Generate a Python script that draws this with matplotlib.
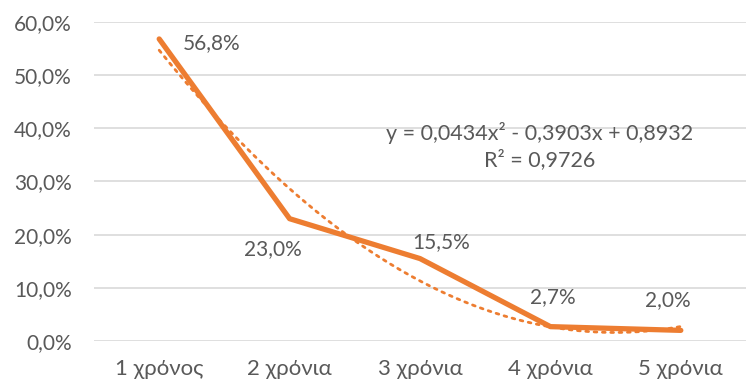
import numpy as np
import matplotlib.pyplot as plt
from matplotlib.ticker import FuncFormatter

categories = ['1 χρόνος', '2 χρόνια', '3 χρόνια', '4 χρόνια', '5 χρόνια']
values = [0.568, 0.230, 0.155, 0.027, 0.020]
labels = ['56,8%', '23,0%', '15,5%', '2,7%', '2,0%']
# label offsets in points from each point
offsets = [(17, -3), (-12, -22), (15, 12), (1.5, 21), (-9, 21.5)]
has = ['left', 'center', 'center', 'center', 'center']

plt.rcParams['font.family'] = ['Lato', 'DejaVu Sans']
orange = '#ED7D31'
grey = '#595959'

fig = plt.figure(figsize=(7.46, 3.85), dpi=100)
ax = fig.add_axes([0.126, 0.1143, 0.874, 0.8287])

x = np.arange(1, len(values) + 1)
ax.plot(x, values, color=orange, lw=3.8, solid_capstyle='round', zorder=3)

# polynomial trendline (order 2)
coef = np.polyfit(x, values, 2)
xs = np.linspace(1, 5, 200)
ax.plot(xs, np.polyval(coef, xs), color=orange, lw=2, ls=(0, (1, 2)),
        dash_capstyle='round', zorder=2)

for xi, v, lab, off, ha in zip(x, values, labels, offsets, has):
    ax.annotate(lab, (xi, v), xytext=off, textcoords='offset points',
                ha=ha, va='center', fontsize=15, color=grey)

ax.text(0.684, 0.652, 'y = 0,0434x² - 0,3903x + 0,8932', transform=ax.transAxes,
        ha='center', va='center', fontsize=15.5, color=grey)
ax.text(0.684, 0.567, 'R² = 0,9726', transform=ax.transAxes,
        ha='center', va='center', fontsize=15.5, color=grey)

ax.set_xlim(0.5, 5.5)
ax.set_ylim(0, 0.6)
ax.set_yticks(np.arange(0, 0.61, 0.1))
ax.yaxis.set_major_formatter(FuncFormatter(lambda v, p: f'{v*100:.1f}%'.replace('.', ',')))
ax.set_xticks(x)
ax.set_xticklabels(categories)
ax.tick_params(axis='both', length=0, labelsize=15, labelcolor=grey)
ax.tick_params(axis='x', labelsize=16)
ax.tick_params(axis='y', pad=16)
ax.tick_params(axis='x', pad=13)
ax.grid(axis='y', color='#D9D9D9', lw=1.2)
ax.set_axisbelow(True)
for s in ax.spines.values():
    s.set_visible(False)

fig.savefig('out.png', dpi=100)
